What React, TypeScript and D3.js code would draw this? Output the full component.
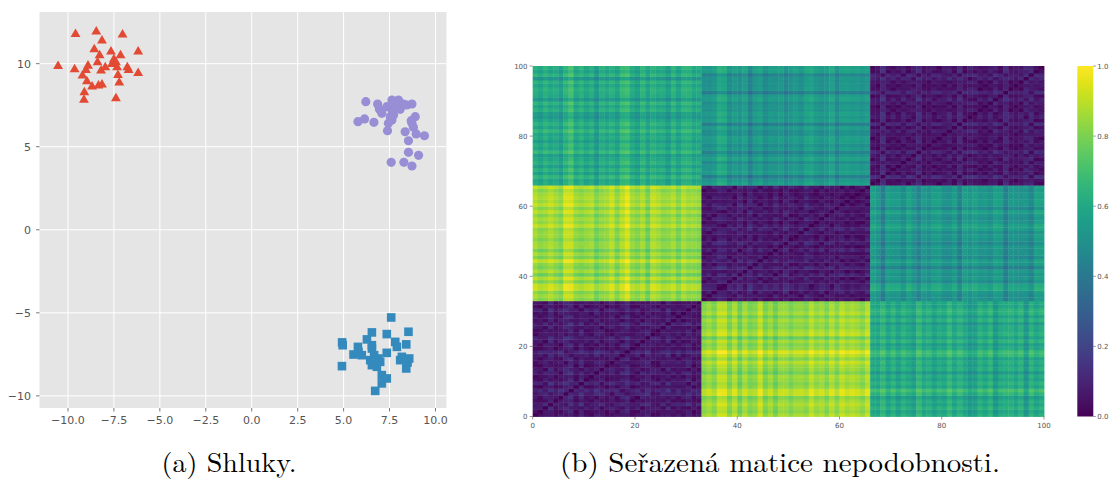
import React from "react";
import * as d3 from "d3";

// Cluster point sets (x, y), listed in matrix order within each cluster
const clusterRed: [number, number][] = [
  [-8.28, 10.54], [-7.33, 9.82], [-8.97, 8.98], [-7.03, 11.79], [-8.2, 9.62],
  [-6.7, 9.66], [-8.46, 11.97], [-10.54, 9.9], [-7.61, 10.02], [-9.13, 7.86],
  [-7.14, 10.54], [-8.39, 10.12], [-6.18, 9.48], [-8.69, 8.66], [-7.5, 10.3],
  [-8.15, 11.43], [-7.28, 9.36], [-9.64, 9.7], [-9.59, 11.83], [-7.97, 9.82],
  [-6.77, 9.82], [-9.21, 9.32], [-7.39, 7.95], [-8.57, 10.9], [-7.66, 10.77],
  [-8.34, 8.72], [-6.18, 10.77], [-9.02, 9.66], [-7.21, 8.9], [-8.91, 9.92],
  [-9.11, 8.31], [-7.39, 10.12], [-8.15, 8.78],
];

const clusterBlue: [number, number][] = [
  [6.54, -6.95], [7.9, -7.05], [5.54, -7.51], [6.72, -9.7], [7.08, -9.25],
  [6.27, -6.6], [8.08, -7.85], [4.92, -6.78], [6.81, -8.25], [7.59, -5.28],
  [5.99, -7.55], [8.41, -8.35], [6.54, -6.18], [7.35, -7.41], [4.95, -6.95],
  [6.9, -7.75], [8.53, -6.14], [5.78, -7.05], [6.45, -7.85], [7.81, -6.75],
  [4.91, -8.21], [7.35, -8.95], [6.66, -7.55], [8.41, -6.9], [5.81, -7.35],
  [7.08, -8.75], [7.35, -6.28], [8.48, -7.99], [6.54, -8.15], [8.17, -7.65],
  [6.99, -7.95], [6.54, -7.15], [8.57, -7.75],
];

const clusterPurple: [number, number][] = [
  [8.26, 7.57], [7.63, 6.61], [8.72, 3.84], [7.35, 7.41], [8.9, 6.81],
  [7.08, 7.01], [8.53, 5.36], [7.99, 7.81], [6.65, 6.47], [9.08, 4.48],
  [7.72, 6.91], [8.35, 5.9], [6.95, 7.25], [8.44, 7.51], [7.39, 5.96],
  [9.4, 5.66], [7.63, 7.21], [8.28, 4.06], [7.81, 7.51], [6.14, 6.67],
  [6.85, 7.57], [8.72, 6.41], [7.54, 6.81], [8.95, 5.77], [6.21, 7.71],
  [8.08, 7.25], [7.59, 4.06], [8.68, 6.57], [7.44, 6.41], [8.8, 6.17],
  [5.78, 6.51], [8.53, 4.66], [7.63, 7.81], [8.72, 7.57],
];

const scatterXTicks = [-10, -7.5, -5, -2.5, 0, 2.5, 5, 7.5, 10];
const scatterYTicks = [-10, -5, 0, 5, 10];
const matrixTicks = [0, 20, 40, 60, 80, 100];
const colorbarTicks = [0, 0.2, 0.4, 0.6, 0.8, 1.0];

const captionA = "(a) Shluky.";
const captionB = "(b) Seřazená matice nepodobnosti.";

// Points ordered by cluster; the matrix is the normalised pairwise distance.
const orderedPoints = [...clusterRed, ...clusterBlue, ...clusterPurple];
const rawDist = orderedPoints.map((p) =>
  orderedPoints.map((q) => Math.hypot(p[0] - q[0], p[1] - q[1]))
);
const maxDist = d3.max(rawDist.flat()) as number;
const dissimilarity = rawDist.map((row) => row.map((v) => v / maxDist));

const fmtMinus = (s: string) => s.replace("-", "\u2212");

export default function App() {
  // Scatter panel
  const sx = d3.scaleLinear().domain([-11.55, 10.6]).range([39.5, 446.5]);
  const sy = d3.scaleLinear().domain([-10.73, 13.11]).range([408, 12]);
  const tri = d3.symbol().type(d3.symbolTriangle).size(42)() as string;
  const sq = 8.6;

  // Matrix panel
  const mx = d3.scaleLinear().domain([0, 100]).range([532.7, 1044]);
  const my = d3.scaleLinear().domain([0, 100]).range([416.5, 66]);
  const color = d3.scaleSequential(d3.interpolateViridis).domain([0, 1]);
  const cb = d3.scaleLinear().domain([0, 1]).range([416.5, 66]);
  const cbX0 = 1077.3;
  const cbX1 = 1093.3;
  const gradStops = d3.range(0, 1.0001, 0.05);

  const tickColor = "#555555";
  const font = "DejaVu Sans, sans-serif";
  const serif =
    "'Latin Modern Roman', 'CMU Serif', 'Nimbus Roman', 'Nimbus Roman No9 L', FreeSerif, 'Noto Serif', Times, Georgia, serif";

  return (
    <svg
      width={1110}
      height={480}
      style={{ position: "absolute", left: 0, top: 0, background: "#ffffff" }}
    >
      <defs>
        <linearGradient id="viridisBar" x1="0" y1="1" x2="0" y2="0">
          {gradStops.map((t) => (
            <stop key={t} offset={`${t * 100}%`} stopColor={color(t)} />
          ))}
        </linearGradient>
      </defs>

      {/* Scatter panel */}
      <rect
        x={sx.range()[0]}
        y={sy.range()[1]}
        width={sx.range()[1] - sx.range()[0]}
        height={sy.range()[0] - sy.range()[1]}
        fill="#E5E5E5"
      />
      {scatterXTicks.map((t) => (
        <line key={`gx${t}`} x1={sx(t)} x2={sx(t)} y1={sy.range()[1]} y2={sy.range()[0]} stroke="#ffffff" strokeWidth={1} />
      ))}
      {scatterYTicks.map((t) => (
        <line key={`gy${t}`} x1={sx.range()[0]} x2={sx.range()[1]} y1={sy(t)} y2={sy(t)} stroke="#ffffff" strokeWidth={1} />
      ))}
      {scatterXTicks.map((t) => (
        <g key={`tx${t}`}>
          <line x1={sx(t)} x2={sx(t)} y1={408} y2={411.5} stroke={tickColor} strokeWidth={0.8} />
          <text x={sx(t)} y={423.5} textAnchor="middle" fontSize={11} fontFamily={font} fill={tickColor}>
            {fmtMinus(t.toFixed(1))}
          </text>
        </g>
      ))}
      {scatterYTicks.map((t) => (
        <g key={`ty${t}`}>
          <line x1={36} x2={39.5} y1={sy(t)} y2={sy(t)} stroke={tickColor} strokeWidth={0.8} />
          <text x={31} y={sy(t) + 4} textAnchor="end" fontSize={11} fontFamily={font} fill={tickColor}>
            {fmtMinus(String(t))}
          </text>
        </g>
      ))}
      {clusterRed.map(([x, y], i) => (
        <path key={`r${i}`} d={tri} transform={`translate(${sx(x)},${sy(y) + 0.8})`} fill="#E24A33" />
      ))}
      {clusterPurple.map(([x, y], i) => (
        <circle key={`p${i}`} cx={sx(x)} cy={sy(y)} r={4.6} fill="#988ED5" />
      ))}
      {clusterBlue.map(([x, y], i) => (
        <rect key={`b${i}`} x={sx(x) - sq / 2} y={sy(y) - sq / 2} width={sq} height={sq} fill="#348ABD" />
      ))}

      {/* Dissimilarity matrix */}
      {dissimilarity.map((row, i) =>
        row.map((v, j) => (
          <rect
            key={`c${i}-${j}`}
            x={mx(j)}
            y={my(i + 1)}
            width={mx(j + 1) - mx(j) + 0.4}
            height={my(i) - my(i + 1) + 0.4}
            fill={color(v)}
          />
        ))
      )}
      {matrixTicks.map((t) => (
        <g key={`mx${t}`}>
          <line x1={mx(t)} x2={mx(t)} y1={416.5} y2={419.5} stroke={tickColor} strokeWidth={0.6} />
          <text x={mx(t)} y={427.5} textAnchor="middle" fontSize={7} fontFamily={font} fill={tickColor}>
            {t}
          </text>
        </g>
      ))}
      {matrixTicks.map((t) => (
        <g key={`my${t}`}>
          <line x1={529.7} x2={532.7} y1={my(t)} y2={my(t)} stroke={tickColor} strokeWidth={0.6} />
          <text x={527.5} y={my(t) + 2.5} textAnchor="end" fontSize={7} fontFamily={font} fill={tickColor}>
            {t}
          </text>
        </g>
      ))}

      {/* Colour bar */}
      <rect x={cbX0} y={cb(1)} width={cbX1 - cbX0} height={cb(0) - cb(1)} fill="url(#viridisBar)" />
      {colorbarTicks.map((t) => (
        <g key={`cb${t}`}>
          <line x1={cbX1} x2={cbX1 + 2.5} y1={cb(t)} y2={cb(t)} stroke={tickColor} strokeWidth={0.6} />
          <text x={cbX1 + 4} y={cb(t) + 2.5} fontSize={7} fontFamily={font} fill={tickColor}>
            {t.toFixed(1)}
          </text>
        </g>
      ))}

      {/* Captions */}
      <text
        x={161.5}
        y={472}
        fontSize={27}
        fontFamily={serif}
        fill="#000"
        textLength={135}
        lengthAdjust="spacingAndGlyphs"
      >
        {captionA}
      </text>
      <text
        x={560}
        y={472}
        fontSize={27}
        fontFamily={serif}
        fill="#000"
        textLength={440}
        lengthAdjust="spacingAndGlyphs"
      >
        {captionB}
      </text>
    </svg>
  );
}
